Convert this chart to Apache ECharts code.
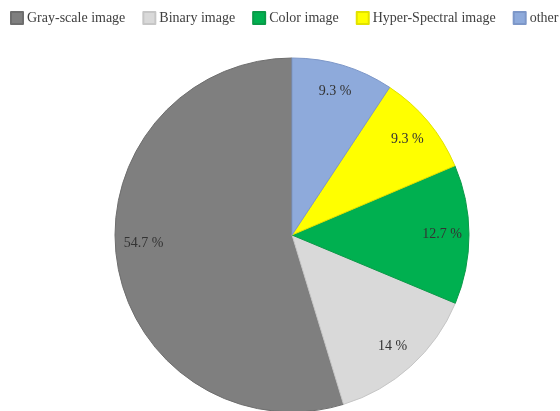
<!DOCTYPE html>
<html>
<head>
<meta charset="utf-8">
<script src="https://cdn.jsdelivr.net/npm/echarts@6/dist/echarts.min.js"></script>
<style>
  html, body { margin: 0; padding: 0; background: #fff; }
  #chart { width: 560px; height: 411px; }
</style>
</head>
<body>
<div id="chart"></div>
<script>
// Share of image types used across the surveyed studies (%)
const categories = ['Gray-scale image', 'Binary image', 'Color image', 'Hyper-Spectral image', 'other'];
const shares = [54.7, 14, 12.7, 9.3, 9.3];
const fills = ['#7f7f7f', '#d9d9d9', '#00b050', '#ffff00', '#8eaadb'];
const edges = ['#6e6e6e', '#c6c6c6', '#0a9a48', '#e2e200', '#7d97c8'];

const font = '"Liberation Serif", "Times New Roman", serif';
const center = [292, 235];
const outer = 177;

const sliceData = categories.map((name, i) => ({
  name: name,
  value: shares[i],
  itemStyle: { color: fills[i], borderColor: edges[i], borderWidth: 1 }
}));

// Transparent ring used only to place the value labels near the rim
const labelData = categories.map((name, i) => ({
  name: name,
  value: shares[i],
  itemStyle: { color: 'rgba(0,0,0,0)', borderWidth: 0 },
  // the large slice's label sits a little higher, level with the centre
  label: i === 0 ? { offset: [0, -14] } : {}
}));

const chart = echarts.init(document.getElementById('chart'), null, { renderer: 'canvas' });
chart.setOption({
  animation: false,
  backgroundColor: '#ffffff',
  legend: {
    data: categories,
    left: 10,
    top: 11,
    padding: 0,
    width: 2000,
    orient: 'horizontal',
    icon: 'rect',
    itemWidth: 12,
    itemHeight: 12,
    itemGap: 17,
    textStyle: { fontFamily: font, fontSize: 14, color: '#404040', padding: [0, 0, 0, -1] }
  },
  series: [
    {
      type: 'pie',
      center: center,
      radius: [0, outer],
      startAngle: 90,
      clockwise: false,
      silent: true,
      label: { show: false },
      labelLine: { show: false },
      data: sliceData
    },
    {
      type: 'pie',
      center: center,
      radius: [117, outer],
      startAngle: 90,
      clockwise: false,
      silent: true,
      legendHoverLink: false,
      label: {
        show: true,
        position: 'inside',
        formatter: '{c} %',
        fontFamily: font,
        fontSize: 14,
        color: '#333333'
      },
      labelLine: { show: false },
      data: labelData
    }
  ]
});
</script>
</body>
</html>
